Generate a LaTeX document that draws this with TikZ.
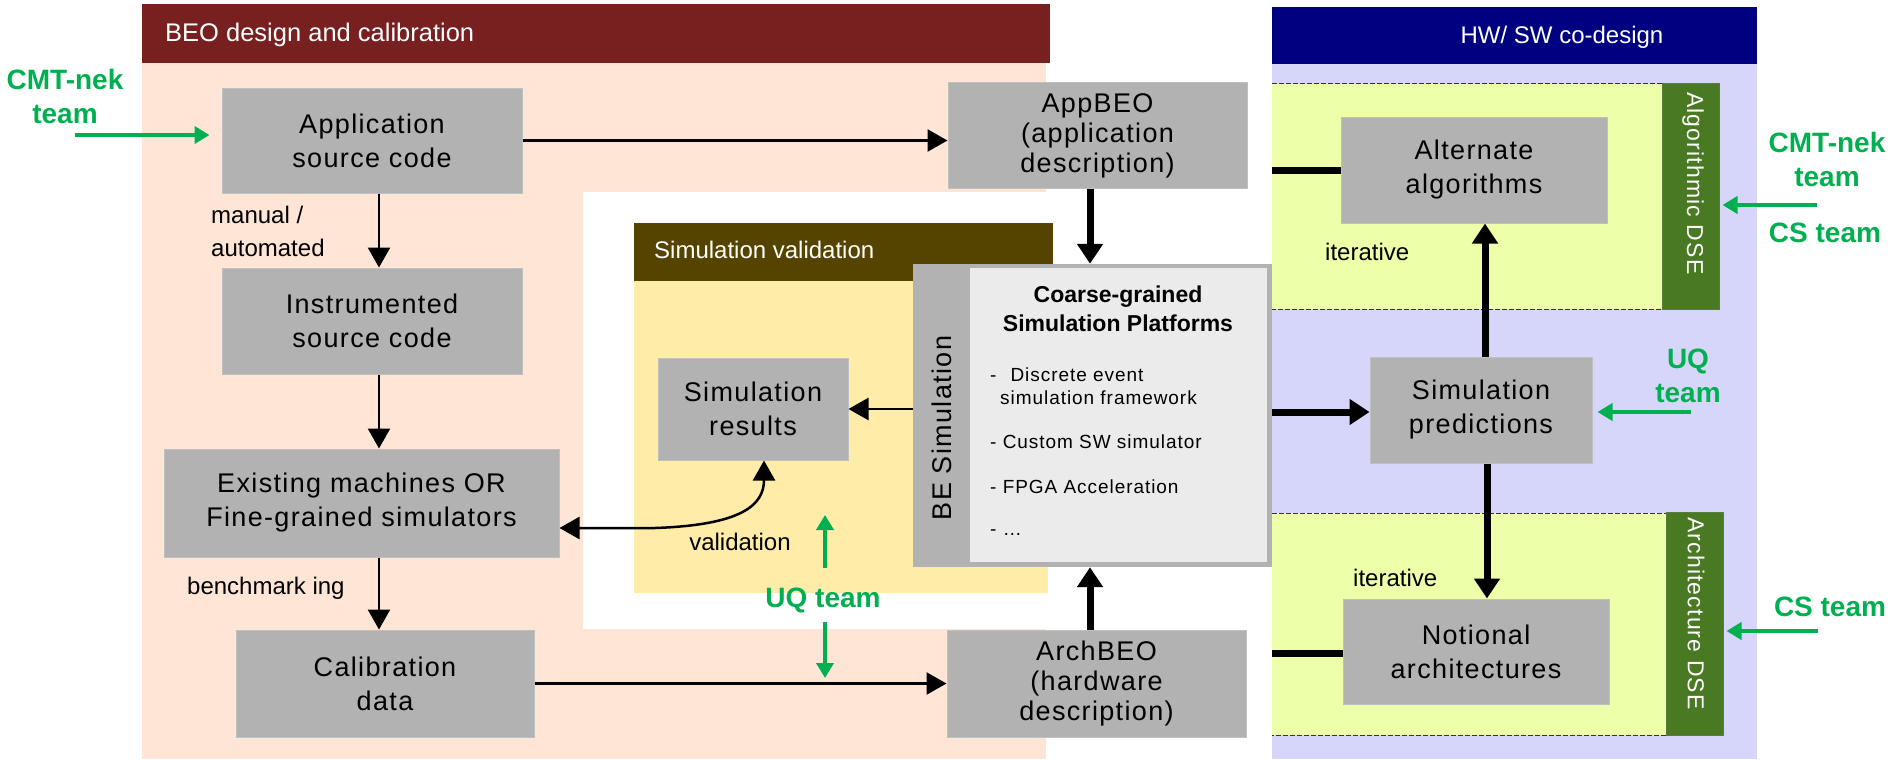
\documentclass[tikz,border=0pt]{standalone}
\usepackage{fontspec}
\setmainfont{Liberation Sans}
\newfontfamily\lsfont[LetterSpace=5]{Liberation Sans}
\usetikzlibrary{arrows.meta,calc}
\definecolor{beored}{RGB}{120,32,32}
\definecolor{peach}{RGB}{254,229,213}
\definecolor{olivebar}{RGB}{85,68,0}
\definecolor{lyellow}{RGB}{255,236,168}
\definecolor{navyb}{RGB}{0,0,128}
\definecolor{lav}{RGB}{214,214,251}
\definecolor{zonecol}{RGB}{238,255,170}
\definecolor{dsegreen}{RGB}{73,121,34}
\definecolor{boxgray}{RGB}{178,178,178}
\definecolor{boxedge}{RGB}{192,192,192}
\definecolor{lgray}{RGB}{235,235,235}
\definecolor{tgreen}{RGB}{0,176,80}
\begin{document}
\begin{tikzpicture}[x=1pt,y=-1pt,
  box/.style={fill=boxgray,draw=boxedge,line width=1pt,inner sep=0pt,align=center,font=\lsfont\fontsize{27}{34}\selectfont},
  box3/.style={box,font=\lsfont\fontsize{27}{30}\selectfont},
  ttl/.style={text=white,inner sep=0pt,font=\fontsize{24}{28}\selectfont},
  lbl/.style={inner sep=0pt,font=\fontsize{24}{33}\selectfont,align=left},
  team/.style={text=tgreen,inner sep=0pt,align=center,font=\bfseries\fontsize{28}{34}\selectfont},
  lst/.style={inner sep=0pt,align=left,anchor=west,font=\lsfont\fontsize{19}{23}\selectfont},
  dselbl/.style={text=white,inner sep=0pt,rotate=-90,anchor=west,font=\lsfont\fontsize{23}{26}\selectfont},
  arr/.style={line width=2.5pt,-{Triangle[width=22pt,length=20pt]}},
  tarr/.style={line width=7pt,-{Triangle[width=25pt,length=20pt]}},
  tline/.style={line width=7pt},
  garr/.style={tgreen,line width=4pt,-{Triangle[width=17pt,length=15pt]}},
  zonedash/.style={draw=black!80,line width=1pt,dash pattern=on 5pt off 2pt}
]
\useasboundingbox (0,0) rectangle (1893,760);
\fill[white] (0,0) rectangle (1893,760);
% BEO panel
\fill[peach] (142,63) rectangle (1046,759);
\fill[beored] (142,4) rectangle (1050,63);
\node[ttl,anchor=west,font=\fontsize{25.5}{28}\selectfont] (beotitle) at (165,35) {BEO design and calibration};
% white cut-out and simulation validation
\fill[white] (583,192) rectangle (1050,629);
\fill[lyellow] (634,281) rectangle (1048,593);
\fill[olivebar] (634,223) rectangle (1053,281);
\node[ttl,anchor=west] (svtitle) at (654,250) {Simulation validation};
% HW/SW panel
\fill[lav] (1272,64) rectangle (1757,759);
\fill[navyb] (1272,7) rectangle (1757,64);
\node[ttl] (hwtitle) at (1562,37) {HW/ SW co-design};
\fill[zonecol] (1272,84) rectangle (1662,309);
\draw[zonedash] (1272,84) -- (1662,84) -- (1662,309) -- (1272,309);
\fill[zonecol] (1272,513) rectangle (1666,735);
\draw[zonedash] (1272,513) -- (1666,513) -- (1666,735) -- (1272,735);
\node[fill=dsegreen,draw=dsegreen!70!gray,line width=1pt,inner sep=0pt,minimum width=57pt,minimum height=225pt] (algbar) at (1690.5,196.5) {};
\node[dselbl] (algtxt) at (1693,92) {Algorithmic DSE};
\node[fill=dsegreen,draw=dsegreen!70!gray,line width=1pt,inner sep=0pt,minimum width=57pt,minimum height=223pt] (archbar) at (1694.5,623.5) {};
\node[dselbl] (archtxt) at (1696,517) {Architecture DSE};

% boxes
\node[box,minimum width=300pt,minimum height=105pt] (app) at (372,140.5) {Application\\source code};
\node[box,minimum width=300pt,minimum height=106pt] (instr) at (372,321) {Instrumented\\source code};
\node[box,minimum width=395pt,minimum height=108pt] (exist) at (361.5,503) {Existing machines OR\\Fine-grained simulators};
\node[box,minimum width=298pt,minimum height=107pt] (calib) at (385,683.5) {Calibration\\data};
\node[box3,minimum width=299pt,minimum height=105pt] (appbeo) at (1097.5,135.5) {AppBEO\\(application\\description)};
\node[box3,minimum width=299pt,minimum height=107pt] (archbeo) at (1096.5,683.5) {ArchBEO\\(hardware\\description)};
\node[box,minimum width=190pt,minimum height=102pt] (simres) at (753,409) {Simulation\\results};
\node[fill=boxgray,inner sep=0pt,minimum width=359pt,minimum height=303pt] (besim) at (1092.5,415.5) {};
\node[fill=lgray,inner sep=0pt,minimum width=297pt,minimum height=294pt] (coarse) at (1118.5,415) {};
\node[inner sep=0pt,rotate=90,font=\lsfont\fontsize{27}{30}\selectfont] (besimtxt) at (942,428) {BE Simulation};
\node[inner sep=0pt,align=center,font=\bfseries\fontsize{23}{29}\selectfont] (coarsetxt) at (1118,308.5) {Coarse-grained\\Simulation Platforms};
\node[lst] (li1) at (990,386.5) {-\hspace{14pt}Discrete event\\\hspace{10pt}simulation framework};
\node[lst] (li2) at (990,442) {- Custom SW simulator};
\node[lst] (li3) at (990,487) {- FPGA Acceleration};
\node[lst] (li4) at (990,533) {- \ldots};
\node[box,minimum width=266pt,minimum height=106pt] (alt) at (1474,170) {Alternate\\algorithms};
\node[box,minimum width=222pt,minimum height=106pt] (pred) at (1481,410) {Simulation\\predictions};
\node[box,minimum width=266pt,minimum height=105pt] (notional) at (1476,651.5) {Notional\\architectures};

% labels
\node[lbl,anchor=west] (manual) at (211,231.5) {manual /\\automated};
\node[lbl,anchor=west] (bench) at (187,588) {benchmark ing};
\node[lbl] (valid) at (740,542) {validation};
\node[lbl,anchor=west] (iter1) at (1325,252) {iterative};
\node[lbl,anchor=west] (iter2) at (1353,578) {iterative};

% thin arrows
\coordinate (c1) at ($(app.south)+(7,0)$);
\draw[arr] (c1) -- (c1 |- instr.north);
\coordinate (c2) at ($(instr.south)+(7,0)$);
\draw[arr] (c2) -- (c2 |- exist.north);
\coordinate (c3) at ($(exist.south)+(17.5,0)$);
\draw[arr] (c3) -- (c3 |- calib.north);
\draw[arr] (app.east) -- (app.east -| appbeo.west);
\draw[arr] (calib.east) -- (archbeo.west);
\draw[arr] (besim.west |- simres.east) -- (simres.east);
\coordinate (v1) at ($(exist.east)+(0,25)$);
\coordinate (v2) at ($(simres.south)+(11,0)$);
\draw[line width=2.5pt,{Triangle[width=22pt,length=20pt]}-{Triangle[width=22pt,length=20pt]}]
  (v1) -- (655,528) .. controls (742,525) and (764,505) .. (v2);

% thick arrows
\coordinate (a1) at ($(appbeo.south)+(-7.5,0)$);
\draw[tarr] (a1) -- (a1 |- besim.north);
\coordinate (a2) at ($(archbeo.north)+(-6.5,0)$);
\draw[tarr] (a2) -- (a2 |- besim.south);
\coordinate (a3) at ($(besim.east)+(0,-3.5)$);
\draw[tarr] (a3) -- (a3 -| pred.west);
\coordinate (a4) at ($(pred.north)+(4,0)$);
\draw[tarr] (a4) -- (a4 |- alt.south);
\coordinate (a5) at ($(pred.south)+(6,0)$);
\draw[tarr] (a5) -- (a5 |- notional.north);
\coordinate (l1) at (1272,170);
\draw[tline] (l1) -- (l1 -| alt.west);
\coordinate (l2) at (1272,653);
\draw[tline] (l2) -- (l2 -| notional.west);

% team labels and green arrows
\node[team] (cmtL) at (65,96.5) {CMT-nek\\team};
\coordinate (g1) at (75,135);
\draw[garr,shorten >=12pt] (g1) -- (g1 -| app.west);
\node[team] (uqM) at (823,600) {UQ team};
\coordinate (u1) at (825,568);
\coordinate (u2) at (825,515);
\draw[garr] (u1) -- (u2);
\coordinate (u3) at (825,622);
\coordinate (u4) at (825,678);
\draw[garr] (u3) -- (u4);
\node[team] (cmtR) at (1827,159.5) {CMT-nek\\team};
\coordinate (g2) at (1817,205);
\draw[garr,shorten >=3pt] (g2) -- (g2 -| algbar.east);
\node[team] (csR1) at (1825,233) {CS team};
\node[team] (uqR) at (1688,375.5) {UQ\\team};
\coordinate (g3) at (1691,412);
\draw[garr,shorten >=5pt] (g3) -- (g3 -| pred.east);
\node[team] (csR2) at (1830,607) {CS team};
\coordinate (g4) at (1818,631);
\draw[garr,shorten >=3pt] (g4) -- (g4 -| archbar.east);
\end{tikzpicture}
\end{document}
